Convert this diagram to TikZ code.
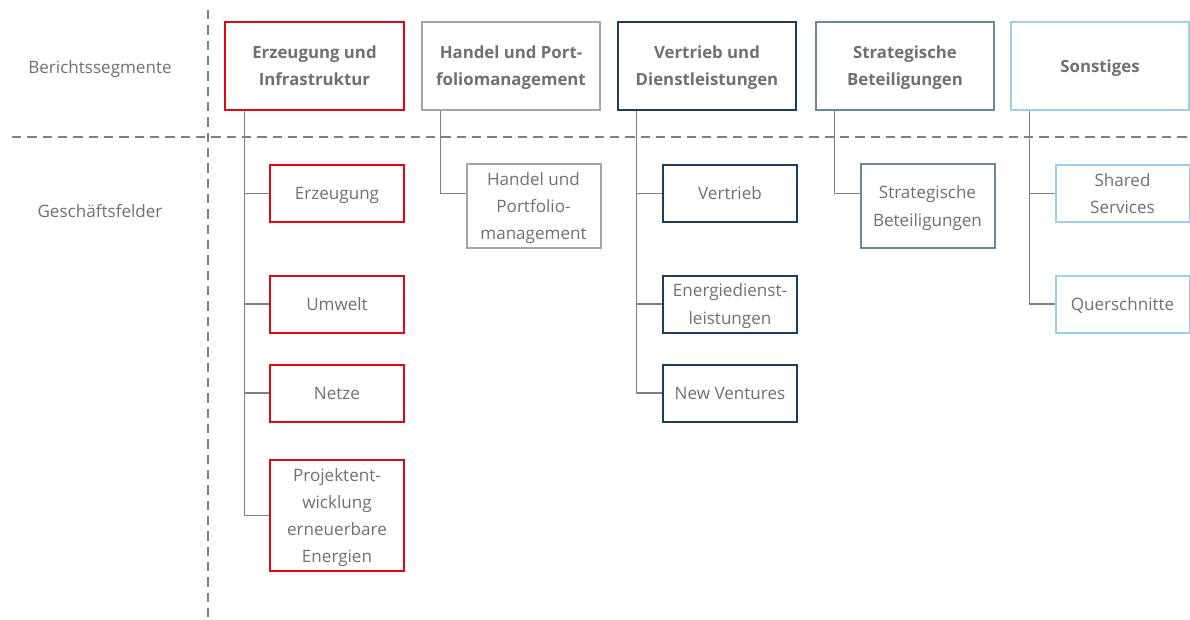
\documentclass[tikz,border=0pt]{standalone}
\usepackage{fontspec}
\setmainfont{Open Sans}
\usetikzlibrary{calc}

\definecolor{txtgray}{HTML}{707070}
\definecolor{linegray}{HTML}{7F7F7F}
\definecolor{segred}{HTML}{E30613}
\definecolor{seggray}{HTML}{A5A5A5}
\definecolor{segnavy}{HTML}{1D3C5E}
\definecolor{segsteel}{HTML}{6B8798}
\definecolor{seglight}{HTML}{9DCFEA}

\tikzset{
    segment/.style={draw=#1, line width=1.5pt, minimum width=134pt, minimum height=66pt,
        align=center, text=txtgray, font=\bfseries\fontsize{12.6}{20.3}\selectfont,
        inner sep=0pt, text depth=0pt},
    field/.style={draw=#1, line width=1.5pt, minimum width=100.5pt, minimum height=42.75pt,
        align=center, text=txtgray, font=\fontsize{12.8}{20.3}\selectfont,
        inner sep=0pt, text depth=0pt},
    rowlabel/.style={text=txtgray, font=\fontsize{12.8}{20.3}\selectfont},
    conn/.style={draw=linegray, line width=0.9pt},
    divider/.style={draw=linegray, line width=1.5pt, dash pattern=on 7pt off 4.5pt}
}

\begin{document}
\begin{tikzpicture}[x=0.75pt, y=-0.75pt]
    \useasboundingbox (0,0) rectangle (1190,619);

    % Divider lines
    \draw[divider] (12,137) -- (1190,137);
    \draw[divider] (208,10) -- (208,619);

    % Row labels
    \node[rowlabel] (lblseg) at (100,69) {Berichtssegmente};
    \node[rowlabel] (lblfeld) at (100,211) {Geschäftsfelder};

    % Reporting segments
    \node[segment=segred]   (seg1) at (314.5,66) {Erzeugung und\\Infrastruktur};
    \node[segment=seggray]  (seg2) at (511,66)   {Handel und Port-\\foliomanagement};
    \node[segment=segnavy]  (seg3) at (707,66)   {Vertrieb und\\Dienstleistungen};
    \node[segment=segsteel] (seg4) at (905,66)   {Strategische\\Beteiligungen};
    \node[segment=seglight] (seg5) at (1100,66)  {Sonstiges};

    % Business fields
    \node[field=segred] (erz)  at (337,193.5) {Erzeugung};
    \node[field=segred] (umw)  at (337,304)   {Umwelt};
    \node[field=segred] (netz) at (337,393)   {Netze};
    \node[field=segred, minimum height=83.25pt] (proj) at (337,515.5) {Projektent-\\wicklung\\erneuerbare\\Energien};

    \node[field=seggray, minimum height=63pt] (handel) at (533.5,206) {Handel und\\Portfolio-\\management};

    \node[field=segnavy] (vert) at (730,193.5) {Vertrieb};
    \node[field=segnavy] (edl)  at (730,304)   {Energiedienst-\\leistungen};
    \node[field=segnavy] (nv)   at (730,393)   {New Ventures};

    \node[field=segsteel, minimum height=63pt] (strat) at (927.5,206) {Strategische\\Beteiligungen};

    \node[field=seglight] (shared) at (1122.5,193.5) {Shared\\Services};
    \node[field=seglight] (quer)   at (1122.5,304)   {Querschnitte};

    % Trunks below the segments
    \coordinate (t1) at ([xshift=15pt]seg1.south west);
    \coordinate (t2) at ([xshift=15pt]seg2.south west);
    \coordinate (t3) at ([xshift=15pt]seg3.south west);
    \coordinate (t4) at ([xshift=15pt]seg4.south west);
    \coordinate (t5) at ([xshift=15pt]seg5.south west);

    % Connectors
    \draw[conn] (t1) |- (proj.west);
    \draw[conn] (erz.west) -- (erz.west -| t1);
    \draw[conn] (umw.west) -- (umw.west -| t1);
    \draw[conn] (netz.west) -- (netz.west -| t1);

    \draw[conn] (t2) |- (handel.west |- erz.west);

    \draw[conn] (t3) |- (nv.west);
    \draw[conn] (vert.west) -- (vert.west -| t3);
    \draw[conn] (edl.west) -- (edl.west -| t3);

    \draw[conn] (t4) |- (strat.west |- erz.west);

    \draw[conn] (t5) |- (quer.west);
    \draw[conn] (shared.west) -- (shared.west -| t5);
\end{tikzpicture}
\end{document}
